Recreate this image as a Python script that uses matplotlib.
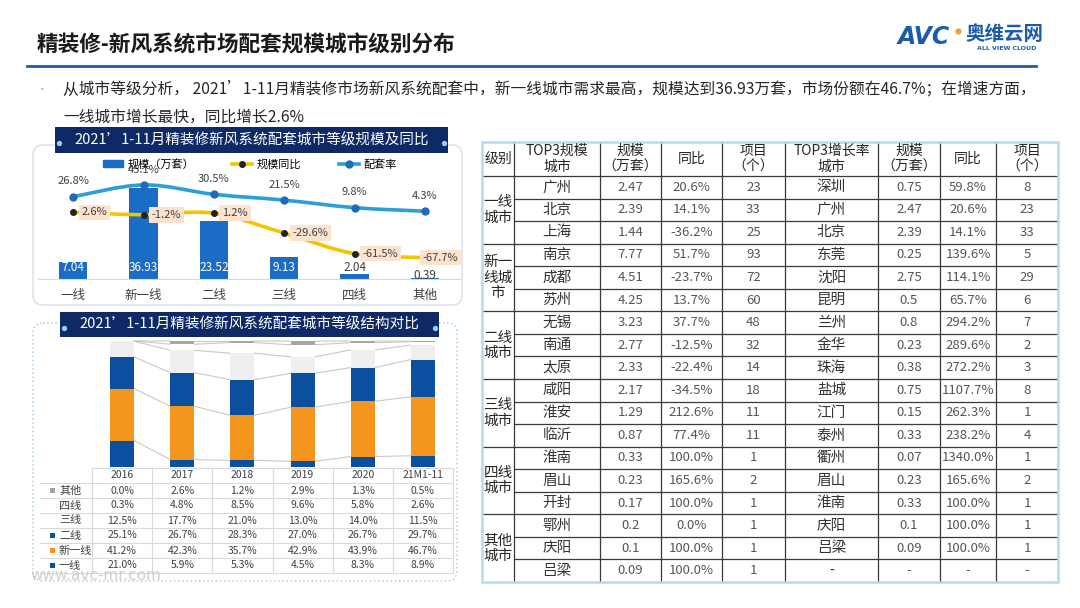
import matplotlib
matplotlib.use('Agg')
import matplotlib.pyplot as plt
import matplotlib.transforms as mtransforms
from matplotlib.patches import FancyBboxPatch, Rectangle, PathPatch
from matplotlib.path import Path
from matplotlib.lines import Line2D
import numpy as np

plt.rcParams['font.family'] = ['Noto Sans CJK SC', 'DejaVu Sans']

W, H = 1080, 608

# ---- top-left chart: scale by city tier ----
tiers = ['一线', '新一线', '二线', '三线', '四线', '其他']
scale = [7.04, 36.93, 23.52, 9.13, 2.04, 0.39]
scale_yoy = [2.6, -1.2, 1.2, -29.6, -61.5, -67.7]
match_rate = [26.8, 45.1, 30.5, 21.5, 9.8, 4.3]

# ---- bottom-left chart: structure by year (%) ----
years = ['2016', '2017', '2018', '2019', '2020', '21M1-11']
share_tier1 = [21.0, 5.9, 5.3, 4.5, 8.3, 8.9]
share_new1 = [41.2, 42.3, 35.7, 42.9, 43.9, 46.7]
share_tier2 = [25.1, 26.7, 28.3, 27.0, 26.7, 29.7]
share_tier3 = [12.5, 17.7, 21.0, 13.0, 14.0, 11.5]
share_tier4 = [0.3, 4.8, 8.5, 9.6, 5.8, 2.6]
share_other = [0.0, 2.6, 1.2, 2.9, 1.3, 0.5]

# ---- right table ----
levels = ['一线\n城市', '新一\n线城\n市', '二线\n城市', '三线\n城市', '四线\n城市', '其他\n城市']
top_city = ['广州', '北京', '上海', '南京', '成都', '苏州', '无锡', '南通', '太原',
            '咸阳', '淮安', '临沂', '淮南', '眉山', '开封', '鄂州', '庆阳', '吕梁']
top_scale = ['2.47', '2.39', '1.44', '7.77', '4.51', '4.25', '3.23', '2.77', '2.33',
             '2.17', '1.29', '0.87', '0.33', '0.23', '0.17', '0.2', '0.1', '0.09']
top_yoy = ['20.6%', '14.1%', '-36.2%', '51.7%', '-23.7%', '13.7%', '37.7%', '-12.5%', '-22.4%',
           '-34.5%', '212.6%', '77.4%', '100.0%', '165.6%', '100.0%', '0.0%', '100.0%', '100.0%']
top_proj = ['23', '33', '25', '93', '72', '60', '48', '32', '14',
            '18', '11', '11', '1', '2', '1', '1', '1', '1']
grow_city = ['深圳', '广州', '北京', '东莞', '沈阳', '昆明', '兰州', '金华', '珠海',
             '盐城', '江门', '泰州', '衢州', '眉山', '淮南', '庆阳', '吕梁', '-']
grow_scale = ['0.75', '2.47', '2.39', '0.25', '2.75', '0.5', '0.8', '0.23', '0.38',
              '0.75', '0.15', '0.33', '0.07', '0.23', '0.33', '0.1', '0.09', '-']
grow_yoy = ['59.8%', '20.6%', '14.1%', '139.6%', '114.1%', '65.7%', '294.2%', '289.6%', '272.2%',
            '1107.7%', '262.3%', '238.2%', '1340.0%', '165.6%', '100.0%', '100.0%', '100.0%', '-']
grow_proj = ['8', '23', '33', '5', '29', '6', '7', '2', '3',
             '8', '1', '4', '1', '2', '1', '1', '1', '-']
headers = ['级别', 'TOP3规模\n城市', '规模\n（万套）', '同比', '项目\n（个）',
           'TOP3增长率\n城市', '规模\n（万套）', '同比', '项目\n（个）']

NAVY = '#0E2A66'
DARK = '#404040'


def fbox(x0, y0, x1, y1):
    return [x0 / W, 1 - y1 / H, (x1 - x0) / W, (y1 - y0) / H]


def smooth_path(xs, ys):
    # Catmull-Rom style bezier through the data points
    pts = np.column_stack([xs, ys]).astype(float)
    n = len(pts)
    verts = [pts[0]]
    codes = [Path.MOVETO]
    for i in range(n - 1):
        p0 = pts[max(i - 1, 0)]
        p1 = pts[i]
        p2 = pts[i + 1]
        p3 = pts[min(i + 2, n - 1)]
        verts += [p1 + (p2 - p0) / 6, p2 - (p3 - p1) / 6, p2]
        codes += [Path.CURVE4] * 3
    return Path(verts, codes)


fig = plt.figure(figsize=(10.8, 6.08), dpi=100)
fig.patch.set_facecolor('white')

# background / layout axes in pixel coordinates
bg = fig.add_axes([0, 0, 1, 1])
bg.set_xlim(0, W)
bg.set_ylim(H, 0)
bg.axis('off')

# title + logo
bg.text(37, 45, '精装修-新风系统市场配套规模城市级别分布', fontsize=15.6, fontweight='bold',
        color='#1a1a1a', va='center', ha='left')
bg.plot([27, 1036], [66, 66], color='#1F5C99', lw=2)
bg.text(898, 37, 'AVC', fontsize=17, fontweight='bold', fontstyle='italic', color='#1B5BAA',
        va='center', ha='left', family='DejaVu Sans')
bg.scatter([958], [31], s=12, color='#F0A030', zorder=5)
bg.text(965, 35, '奥维云网', fontsize=14, fontweight='bold', color='#1B5BAA', va='center', ha='left')
bg.text(1007, 49, 'ALL VIEW CLOUD', fontsize=4.5, fontweight='bold', color='#1B5BAA',
        va='center', ha='center', family='DejaVu Sans')

# summary text
bg.text(42, 89, '▪', fontsize=6, color='#9DC3E6', va='center', ha='center')
bg.text(63, 89, '从城市等级分析， 2021’1-11月精装修市场新风系统配套中，新一线城市需求最高，规模达到36.93万套，'
        '市场份额在46.7%；在增速方面，', fontsize=11.3, color='#262626', va='center', ha='left')
bg.text(63, 117, '一线城市增长最快，同比增长2.6%', fontsize=11.3, color='#262626', va='center', ha='left')

# panels
bg.add_patch(FancyBboxPatch((33, 145), 429, 160, boxstyle='round,pad=0,rounding_size=10',
                            fc='white', ec='#DCE4EC', lw=1.2))
bg.add_patch(FancyBboxPatch((33, 323), 424, 258, boxstyle='round,pad=0,rounding_size=10',
                            fc='white', ec='#9CCBE5', lw=1, ls=(0, (1, 2))))
for (x0, y0, x1, y1, txt) in [(55, 127, 448, 153, '2021’1-11月精装修新风系统配套城市等级规模及同比'),
                              (60, 312, 439, 337, '2021’1-11月精装修新风系统配套城市等级结构对比')]:
    bg.add_patch(Rectangle((x0, y0), x1 - x0, y1 - y0, fc=NAVY, ec='none'))
    bg.text((x0 + x1) / 2, (y0 + y1) / 2, txt, color='white', fontsize=10.5, ha='center', va='center')
    bg.scatter([x0 + 4, x1 - 4], [(y0 + y1) / 2 + 3] * 2, s=8, color='#8FD3F4', zorder=5)

# ---------- top-left chart ----------
ax1 = fig.add_axes(fbox(38, 150, 460, 279))
ax1.patch.set_alpha(0)
x = np.arange(len(tiers))
bars = ax1.bar(x, scale, width=0.4, color='#1B6CC4', zorder=2)
ax1.set_xlim(-0.5, 5.5)
ax1.set_ylim(0, 129 / 2.46)
for s in ['top', 'left', 'right']:
    ax1.spines[s].set_visible(False)
ax1.spines['bottom'].set_color('#D9D9D9')
ax1.set_yticks([])
ax1.set_xticks(x)
ax1.set_xticklabels(tiers, fontsize=9, color=DARK)
ax1.tick_params(axis='x', length=0, pad=7)
for i, v in enumerate(scale):
    ax1.text(i, 4.5 if v > 1 else 1.6, f'{v:.2f}', ha='center', va='center', fontsize=8.5,
             color='white' if v > 5 else DARK, zorder=3)

ax2 = ax1.twinx()
ax2.set_ylim(-100.8, 99.2)
ax2.axis('off')
ax2.add_patch(PathPatch(smooth_path(x, match_rate), fill=False, ec='#2A9FD8', lw=2.6, zorder=3))
ax2.plot(x, match_rate, 'o', color='#1F6BB8', ms=5, zorder=4)
ax2.add_patch(PathPatch(smooth_path(x, scale_yoy), fill=False, ec='#F5C400', lw=2.6, zorder=3))
ax2.plot(x, scale_yoy, 'o', color='#222222', ms=4, zorder=4)
for i, v in enumerate(match_rate):
    ax2.annotate(f'{v}%', (i, v), xytext=(0, 11), textcoords='offset points', ha='center',
                 va='center', fontsize=8, color=DARK, zorder=5)
for i, v in enumerate(scale_yoy):
    last = i == len(scale_yoy) - 1
    ax2.annotate(f'{v}%', (i, v), xytext=(11 if last else 6, 0), textcoords='offset points',
                 ha='center' if last else 'left', va='center', fontsize=8, color=DARK, zorder=6,
                 bbox=dict(boxstyle='square,pad=0.25', fc='#FBE3CF', ec='none'))

handles = [Rectangle((0, 0), 1, 1, color='#1B6CC4'),
           Line2D([], [], color='#F5C400', lw=2.6, marker='o', ms=4, mfc='#222222', mec='#222222'),
           Line2D([], [], color='#2A9FD8', lw=2.6, marker='o', ms=5, mfc='#1F6BB8', mec='#1F6BB8')]
ax2.legend(handles, ['规模（万套）', '规模同比', '配套率'], loc='center', ncol=3, frameon=False,
           fontsize=8, handlelength=1.8, handleheight=0.6, handletextpad=0.4, columnspacing=3.4,
           bbox_to_anchor=(250 / W, 1 - 164 / H), bbox_transform=fig.transFigure)

# ---------- bottom-left stacked chart ----------
ax3 = fig.add_axes(fbox(92, 341, 453, 467))
ax3.patch.set_alpha(0)
ax3.set_xlim(-0.5, 5.5)
ax3.set_ylim(0, 100)
ax3.axis('off')
xs = np.arange(len(years))
series = [('一线', share_tier1, '#0B4F9F'), ('新一线', share_new1, '#F4961E'),
          ('二线', share_tier2, '#0B4F9F'), ('三线', share_tier3, '#EFEFEF'),
          ('四线', share_tier4, '#FFFFFF'), ('其他', share_other, '#A6A6A6')]
bottom = np.zeros(len(years))
tops = []
for name, vals, col in series:
    ax3.bar(xs, vals, width=0.4, bottom=bottom, color=col, ec='none', zorder=2)
    bottom = bottom + np.array(vals)
    tops.append(bottom.copy())
for cum in tops:
    for i in range(len(years) - 1):
        ax3.plot([i + 0.2, i + 0.8], [cum[i], cum[i + 1]], color='#C8C8C8', lw=0.8, zorder=1,
                 clip_on=False)

# data table under the stacked chart
tr = mtransforms.blended_transform_factory(ax3.transData, bg.transData)
row0 = 468
rh = 15
for k in range(8):
    bg.plot([92 if k == 0 else 40, 453], [row0 + rh * k] * 2, color='#DADADA', lw=0.8)
for j in range(7):
    xx = 92 + j * 361 / 6
    bg.plot([xx, xx], [row0, row0 + rh * 7], color='#DADADA', lw=0.8)
for i, yr in enumerate(years):
    ax3.text(i, row0 + rh * 0.5, yr, transform=tr, ha='center', va='center', fontsize=7.5, color=DARK)
for r, (name, vals, col) in enumerate(series[::-1]):
    yy = row0 + rh * (r + 1.5)
    if col not in ('#FFFFFF', '#EFEFEF'):
        bg.add_patch(Rectangle((49.5, yy - 2.5), 5, 5, fc=col, ec='none'))
    bg.text(59, yy, name, ha='left', va='center', fontsize=8, color=DARK)
    for i, v in enumerate(vals):
        ax3.text(i, yy, f'{v:.1f}%', transform=tr, ha='center', va='center', fontsize=7.5, color=DARK)

bg.text(30, 575, 'www.avc-mr.com', fontsize=11, color='#C4C4C4', ha='left', va='center',
        family='DejaVu Sans', zorder=10, alpha=0.8)

# ---------- right table ----------
cols = [482, 514, 600, 661, 722, 785, 878, 940, 996, 1058]
t_top, h_bot = 142, 176
row_h = (582 - h_bot) / 18
t_bot = h_bot + row_h * 18
for c in cols[1:-1]:
    bg.plot([c, c], [t_top, t_bot], color='#3A3A3A', lw=0.9)
bg.plot([cols[0], cols[-1]], [h_bot, h_bot], color='#3A3A3A', lw=0.9)
for k in range(1, 18):
    yy = h_bot + row_h * k
    bg.plot([cols[0] if k % 3 == 0 else cols[1], cols[-1]], [yy, yy], color='#3A3A3A', lw=0.9)
bg.add_patch(Rectangle((cols[0], t_top), cols[-1] - cols[0], t_bot - t_top, fc='none',
                       ec='#B3DCEB', lw=1.8, zorder=3))
centers = [(cols[j] + cols[j + 1]) / 2 for j in range(9)]
for j, hd in enumerate(headers):
    bg.text(centers[j], (t_top + h_bot) / 2, hd, ha='center', va='center', fontsize=10,
            color='#262626', linespacing=1.15)
for g, lv in enumerate(levels):
    bg.text(centers[0], h_bot + row_h * (3 * g + 1.5), lv, ha='center', va='center', fontsize=10.5,
            color='#262626', linespacing=1.1)
columns = [top_city, top_scale, top_yoy, top_proj, grow_city, grow_scale, grow_yoy, grow_proj]
for j, colvals in enumerate(columns):
    is_city = j in (0, 4)
    for r, v in enumerate(colvals):
        bg.text(centers[j + 1], h_bot + row_h * (r + 0.5), v, ha='center', va='center',
                fontsize=10.5 if is_city else 9.5, color='#333333' if is_city else '#555555')

fig.savefig('out.png', dpi=100, facecolor='white')
